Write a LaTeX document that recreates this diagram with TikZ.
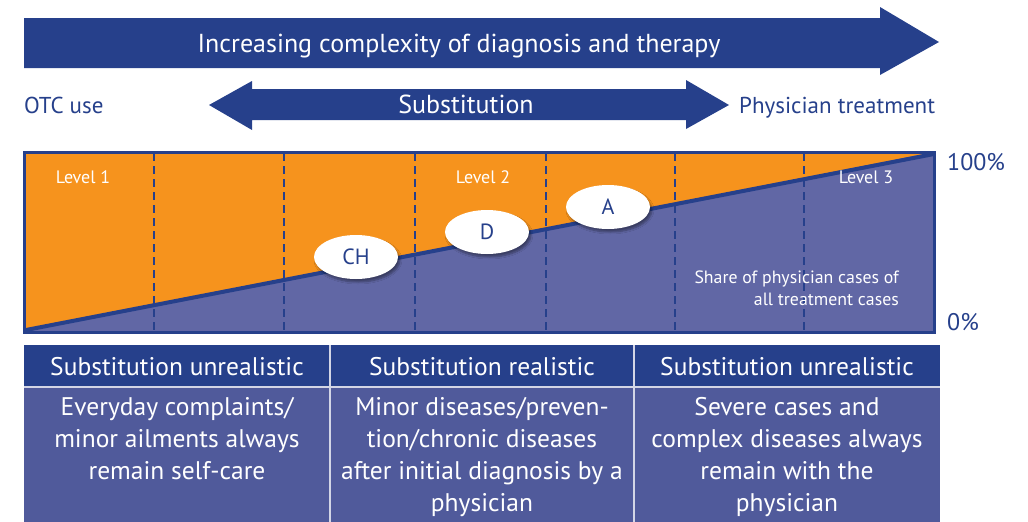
\documentclass[tikz,border=0pt]{standalone}
\usepackage{fontspec}
\setmainfont{PT Sans}
\usetikzlibrary{shapes.geometric,shadows.blur}
\definecolor{dblue}{RGB}{38,64,139}
\definecolor{mblue}{RGB}{97,103,165}
\definecolor{tblue}{RGB}{80,90,155}
\definecolor{orng}{RGB}{246,147,29}
\tikzset{
  bigtxt/.style={font=\fontsize{26}{30}\selectfont, text=white, inner sep=0pt, anchor=base},
  sidetxt/.style={font=\fontsize{23}{26}\selectfont, text=dblue, inner sep=0pt},
  leveltxt/.style={font=\fontsize{18}{20}\selectfont, text=white, inner sep=0pt, anchor=base},
  country/.style={ellipse, fill=white, minimum width=84pt, minimum height=44pt, inner sep=0pt,
     font=\fontsize{22}{24}\selectfont, text=dblue,
     blur shadow={shadow xshift=2pt, shadow yshift=-3pt, shadow blur steps=6, shadow opacity=40}},
  divider/.style={dblue, line width=2pt, dash pattern=on 8pt off 5pt},
  headtxt/.style={font=\fontsize{25.5}{28}\selectfont, text=white, inner sep=0pt, anchor=base},
  celltxt/.style={font=\fontsize{25.5}{32}\selectfont, text=white, inner sep=0pt, align=center, anchor=north},
}
\begin{document}
\begin{tikzpicture}[x=1pt,y=-1pt]
\useasboundingbox (0,0) rectangle (1028,522);
% top arrow
\fill[dblue] (24,18) -- (880,18) -- (880,7) -- (939,42) -- (880,75) -- (880,68) -- (24,68) -- cycle;
\node[bigtxt] (title) at (459,52) {Increasing complexity of diagnosis and therapy};
% substitution double arrow
\fill[dblue] (209,105) -- (252,81) -- (252,89) -- (686,89) -- (686,80) -- (729,105) -- (686,129) -- (686,120) -- (252,120) -- (252,130) -- cycle;
\node[sidetxt, text=white, anchor=base, font=\fontsize{26}{28}\selectfont] (subst) at (466,113) {Substitution};
\node[sidetxt, anchor=base west] (otc) at (24,113) {OTC use};
\node[sidetxt, anchor=base west] (phys) at (739,113) {Physician treatment};
% chart
\fill[orng] (24,152) rectangle (934,332);
\fill[mblue] (24,332) -- (934,152) -- (934,332) -- cycle;
\foreach \x in {154,284,415,546,675,804} \draw[divider] (\x,153) -- (\x,331);
\draw[dblue, line width=4pt] (26,330) -- (934,154);
\draw[dblue, line width=3pt] (24,152) rectangle (934,332);
\node[leveltxt] (l1) at (83,183) {Level 1};
\node[leveltxt] (l2) at (483,183) {Level 2};
\node[leveltxt] (l3) at (866,183) {Level 3};
\node[country] (ch) at (356,257) {CH};
\node[country] (d) at (487,232) {D};
\node[country] (a) at (608,207) {A};
\node[leveltxt, align=right, anchor=east, font=\fontsize{17.8}{22}\selectfont] (share) at (899,288) {Share of physician cases of\\all treatment cases};
\node[sidetxt, anchor=base west, font=\fontsize{24}{26}\selectfont] (p100) at (947,170) {100\%};
\node[sidetxt, anchor=base west, font=\fontsize{24}{26}\selectfont] (p0) at (947,330) {0\%};
% table
\fill[dblue] (24,345) rectangle (940,387);
\fill[tblue] (24,387) rectangle (940,522);
\draw[white!75!tblue, line width=1.5pt] (24,387) -- (940,387);
\draw[white!75!tblue, line width=1.5pt] (330,345) -- (330,522);
\draw[white!75!tblue, line width=1.5pt] (634,345) -- (634,522);
\node[headtxt] (h1) at (177,375) {Substitution unrealistic};
\node[headtxt] (h2) at (482,375) {Substitution realistic};
\node[headtxt] (h3) at (787,375) {Substitution unrealistic};
\node[celltxt] (c1) at (177,397) {Everyday complaints/\\minor ailments always\\remain self-care};
\node[celltxt] (c2) at (482,397) {Minor diseases/preven-\\tion/chronic diseases\\after initial diagnosis by a\\physician};
\node[celltxt] (c3) at (787,397) {Severe cases and\\complex diseases always\\remain with the\\physician};
\end{tikzpicture}
\end{document}
